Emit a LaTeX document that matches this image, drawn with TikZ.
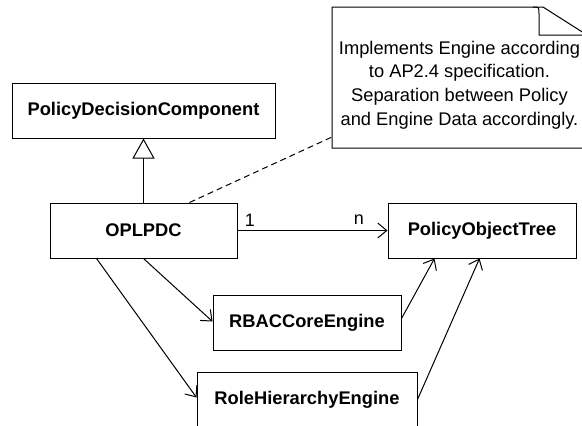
\documentclass[tikz,border=0pt]{standalone}
\usepackage{fontspec}
\setmainfont{Liberation Sans}
\usetikzlibrary{arrows.meta,calc}
\begin{document}
\begin{tikzpicture}[x=1pt,y=-1pt,line width=1pt,
  cls/.style={draw,rectangle,inner sep=0pt,font=\fontsize{18.3}{22}\selectfont\bfseries,minimum height=55pt},
  assoc/.style={-{Straight Barb[length=9pt,width=15pt,line width=1pt]}},
  gen/.style={-{Triangle[open,length=20pt,width=22pt,fill=white]}},
  lbl/.style={font=\fontsize{18}{22}\selectfont,inner sep=0pt},
  notetext/.style={align=center,font=\fontsize{18.3}{23.8}\selectfont,inner sep=0pt}]
\useasboundingbox (0,0) rectangle (582,426);
\node[cls,minimum width=263pt] (pdc) at (143.5,110.5) {PolicyDecisionComponent};
\node[cls,minimum width=187pt] (opl) at (143.5,230.5) {OPLPDC};
\node[cls,minimum width=188pt] (pot) at (482,230.5) {PolicyObjectTree};
\node[cls,minimum width=188pt] (rbac) at (307,322.5) {RBACCoreEngine};
\node[cls,minimum width=220pt] (rhe) at (307,399.5) {RoleHierarchyEngine};
% note
\draw (332,148) -- (332,7) -- (543,7) -- (587,35) -- (587,148) -- cycle;
\draw (533,7) .. controls (539,7) .. (539,14) -- (539,35) -- (587,35);
\node[notetext] (note) at (459.5,85) {Implements Engine according\\to AP2.4 specification.\\Separation between Policy\\and Engine Data accordingly.};
\coordinate (noteanchor) at (332,137);
\draw[dash pattern=on 6pt off 4pt] ($(opl.north west)+(140,0)$) -- (noteanchor);
% generalization
\draw[gen] (opl.north) -- (pdc.south);
% association
\draw[assoc] (opl.east) -- (pot.west);
\node[lbl] (one) at (250,220) {1};
\node[lbl] (nn) at (359,220) {n};
% other dependencies
\draw[assoc] (opl.south) -- ($(rbac.west)+(0,-1)$);
\draw[assoc] ($(opl.south west)+(47,0)$) -- ($(rhe.west)+(0,-2)$);
\draw[assoc] ($(rbac.east)+(0,-4)$) -- ($(pot.south west)+(47,0)$);
\draw[assoc] ($(rhe.east)+(0,0)$) -- ($(pot.south west)+(92,0)$);
\end{tikzpicture}
\end{document}
